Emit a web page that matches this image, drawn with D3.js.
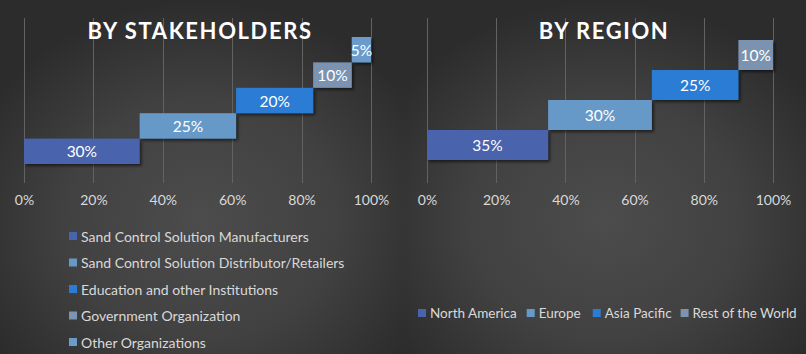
<!DOCTYPE html>
<html><head><meta charset="utf-8">
<script src="https://cdn.jsdelivr.net/npm/d3@7"></script>
<style>
html,body{margin:0;padding:0;background:#2b2b2b;}
svg{display:block;}
text{font-family:Lato,"Open Sans",sans-serif;}
</style></head>
<body>
<svg id="chart" width="806" height="354"></svg>
<script>
// ---- data ----
const stakeCategories = ["Sand Control Solution Manufacturers", "Sand Control Solution Distributor/Retailers", "Education and other Institutions", "Government Organization", "Other Organizations"];
const stakeValues = [30, 25, 20, 10, 5];
const regionCategories = ["North America", "Europe", "Asia Pacific", "Rest of the World"];
const regionValues = [35, 30, 25, 10];
const tickValues = [0, 20, 40, 60, 80, 100];
const tickLabels = ["0%", "20%", "40%", "60%", "80%", "100%"];
const titles = ["BY STAKEHOLDERS", "BY REGION"];
const stakeColors = ["#4864ad", "#6699c8", "#2a7cd5", "url(#dots)", "#6a9bcb"];
const regionColors = ["#4864ad", "#6699c8", "#2a7cd5", "url(#dots)"];

const svg = d3.select("#chart");
const defs = svg.append("defs");

// backgrounds
["bgL", "bgR"].forEach(id => {
  const g = defs.append("radialGradient").attr("id", id)
    .attr("cx", "50%").attr("cy", "62%").attr("r", "62%");
  g.append("stop").attr("offset", "0%").attr("stop-color", "#4c4c4c");
  g.append("stop").attr("offset", "55%").attr("stop-color", "#414141");
  g.append("stop").attr("offset", "100%").attr("stop-color", "#2c2c2c");
});
const pat = defs.append("pattern").attr("id", "dots").attr("width", 4).attr("height", 4)
  .attr("patternUnits", "userSpaceOnUse");
pat.append("rect").attr("x", 0).attr("y", 0).attr("width", 4).attr("height", 4).attr("fill", "#6b97cb");
[[0, 0], [2, 2]].forEach(p => pat.append("rect").attr("x", p[0]).attr("y", p[1]).attr("width", 1).attr("height", 1).attr("fill", "#8e9096"));

const sh = defs.append("filter").attr("id", "shadow").attr("x", "-20%").attr("y", "-20%").attr("width", "150%").attr("height", "160%");
sh.append("feDropShadow").attr("dx", 2).attr("dy", 2).attr("stdDeviation", 1.5)
  .attr("flood-color", "#000").attr("flood-opacity", 0.55);

svg.append("rect").attr("x", 0).attr("y", 0).attr("width", 403).attr("height", 354).attr("fill", "url(#bgL)");
svg.append("rect").attr("x", 403).attr("y", 0).attr("width", 403).attr("height", 354).attr("fill", "url(#bgR)");

function panel(opts) {
  const { cats, vals, colors, x0, x1, yBottom, yTop, title, titleX } = opts;
  const total = d3.sum(vals);
  const x = d3.scaleLinear().domain([0, total]).range([x0, x1]);
  const xt = d3.scaleLinear().domain([0, 100]).range([x0, x1]);
  const y = d3.scaleBand().domain(cats).range([yBottom, yTop]).paddingInner(0).paddingOuter(0);
  const g = svg.append("g");

  // gridlines
  g.selectAll("line.grid").data(tickValues).join("line")
    .attr("x1", d => Math.round(xt(d)) + 0.5).attr("x2", d => Math.round(xt(d)) + 0.5)
    .attr("y1", 18).attr("y2", 183)
    .attr("stroke", "#626262").attr("stroke-width", 1);

  // axis labels
  const ax = d3.axisBottom(xt).tickValues(tickValues).tickFormat((d, i) => tickLabels[i]).tickSize(0).tickPadding(0);
  const axG = g.append("g").attr("transform", "translate(0,195)").call(ax);
  axG.select(".domain").remove();
  axG.selectAll("text").attr("fill", "#d9d9d9").attr("font-size", 14)
    .attr("font-family", "Lato, sans-serif");

  // bars
  const starts = [];
  let acc = 0;
  vals.forEach(v => { starts.push(acc); acc += v; });
  const bars = g.selectAll("g.bar").data(cats).join("g");
  bars.append("rect")
    .attr("x", (d, i) => x(starts[i]))
    .attr("y", d => y(d))
    .attr("width", (d, i) => x(starts[i] + vals[i]) - x(starts[i]))
    .attr("height", y.bandwidth())
    .attr("fill", (d, i) => colors[i])
    .attr("filter", "url(#shadow)");
  bars.append("text")
    .attr("x", (d, i) => (x(starts[i]) + x(starts[i] + vals[i])) / 2)
    .attr("y", d => y(d) + y.bandwidth() / 2)
    .attr("text-anchor", "middle").attr("dominant-baseline", "central")
    .attr("fill", "#ffffff").attr("font-size", 15.5)
    .text((d, i) => vals[i] + "%");

  // title
  g.append("text").attr("x", titleX).attr("y", 30)
    .attr("text-anchor", "middle").attr("dominant-baseline", "central")
    .attr("fill", "#ffffff").attr("font-size", 22).attr("font-weight", "bold")
    .attr("letter-spacing", 1.6)
    .text(title);
}

panel({ cats: stakeCategories, vals: stakeValues, colors: stakeColors, x0: 24, x1: 371, yBottom: 164, yTop: 37, title: titles[0], titleX: 200 });
panel({ cats: regionCategories, vals: regionValues, colors: regionColors, x0: 427, x1: 773, yBottom: 160, yTop: 40, title: titles[1], titleX: 604 });

// left legend (vertical)
const legL = svg.append("g");
const legRowY = d3.scalePoint().domain(stakeCategories).range([236, 342]);
stakeCategories.forEach((c, i) => {
  const yy = legRowY(c);
  legL.append("rect").attr("x", 69).attr("y", yy - 4).attr("width", 8).attr("height", 8).attr("fill", stakeColors[i]);
  legL.append("text").attr("x", 81).attr("y", yy).attr("dominant-baseline", "central")
    .attr("fill", "#d9d9d9").attr("font-size", 14).text(c);
});

// right legend (horizontal)
const legR = svg.append("g");
let cx = 418;
const gaps = [10, 12, 9, 0];
regionCategories.forEach((c, i) => {
  const yy = 313;
  legR.append("rect").attr("x", cx).attr("y", yy - 4).attr("width", 8).attr("height", 8).attr("fill", regionColors[i]);
  const t = legR.append("text").attr("x", cx + 12).attr("y", yy).attr("dominant-baseline", "central")
    .attr("fill", "#d9d9d9").attr("font-size", 13.5).text(c);
  cx += 12 + t.node().getComputedTextLength() + gaps[i];
});
</script>
</body></html>
